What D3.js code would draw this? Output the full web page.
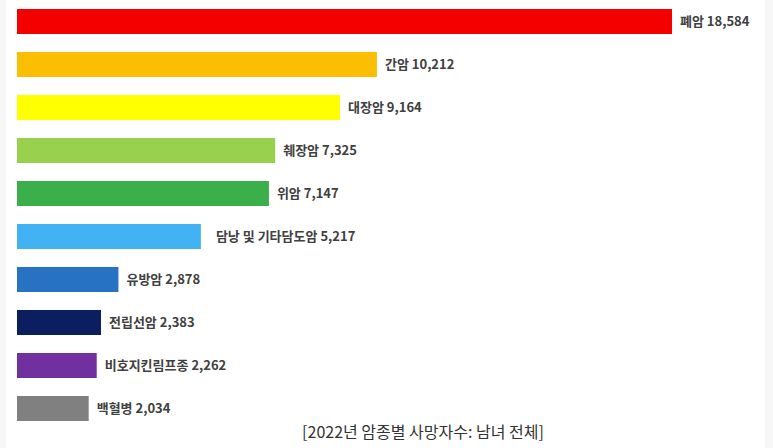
<!DOCTYPE html>
<html><head><meta charset="utf-8">
<script src="https://cdn.jsdelivr.net/npm/d3@7"></script>
<style>
html,body{margin:0;padding:0;background:#fff;}
svg{display:block;}
</style></head>
<body>
<svg id="chart" width="773" height="448"></svg>
<script>
const categories = ["폐암","간암","대장암","췌장암","위암","담낭 및 기타담도암","유방암","전립선암","비호지킨림프종","백혈병"];
const values = [18584,10212,9164,7325,7147,5217,2878,2383,2262,2034];
const colors = ["#f50000","#fbbe00","#ffff00","#98d14d","#3aaf4a","#41b2f3","#2872c3","#0b1f60","#7030a0","#808080"];
const title = "[2022년 암종별 사망자수: 남녀 전체]";

const svg = d3.select("#chart");
svg.append("rect").attr("x",0).attr("y",0).attr("width",773).attr("height",448).attr("fill","#fff");
svg.append("rect").attr("x",0).attr("y",0).attr("width",6).attr("height",448).attr("fill","#f7f7f7");
svg.append("rect").attr("x",765).attr("y",0).attr("width",8).attr("height",448).attr("fill","#f7f7f7");

const x = d3.scaleLinear().domain([0, d3.max(values)]).range([17, 672]);
const y = d3.scaleBand().domain(categories).range([9, 421]).paddingInner(18/43).paddingOuter(0);

const data = categories.map((c,i)=>({c, v: values[i], col: colors[i]}));
const fmt = d3.format(",");

svg.selectAll("rect.bar").data(data).enter().append("rect")
  .attr("class","bar")
  .attr("x", x(0))
  .attr("y", d=>y(d.c))
  .attr("width", d=>x(d.v)-x(0))
  .attr("height", y.bandwidth())
  .attr("fill", d=>d.col);

svg.selectAll("text.lbl").data(data).enter().append("text")
  .attr("class","lbl")
  .attr("x", d=>x(d.v)+ (d.c.includes(" ") ? 15 : 8))
  .attr("y", d=>y(d.c)+y.bandwidth()/2)
  .attr("dy","0.36em")
  .attr("font-family","'Noto Sans CJK KR','Noto Sans',sans-serif")
  .attr("font-size","13px")
  .attr("font-weight","700")
  .attr("fill","#404040")
  .text(d=>d.c+" "+fmt(d.v));

svg.append("text")
  .attr("x", 423)
  .attr("y", 438)
  .attr("text-anchor","middle")
  .attr("font-family","'Noto Sans CJK KR','Noto Sans',sans-serif")
  .attr("font-size","16px")
  .attr("fill","#333")
  .text(title);
</script>
</body></html>
